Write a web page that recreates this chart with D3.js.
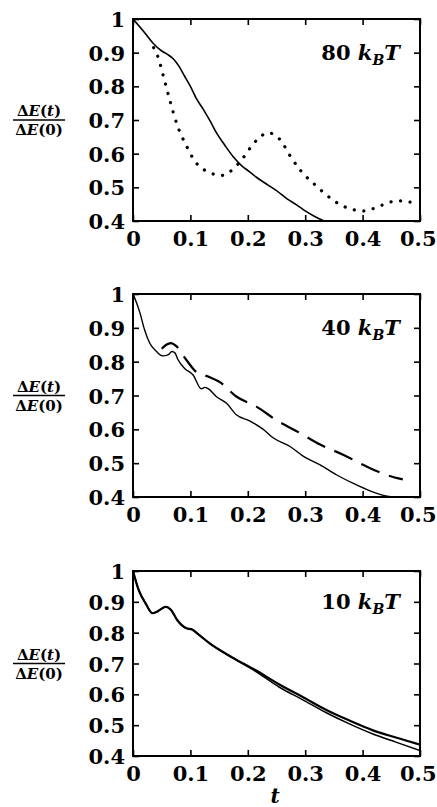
<!DOCTYPE html>
<html>
<head>
<meta charset="utf-8">
<script src="https://cdn.jsdelivr.net/npm/d3@7"></script>
<style>
  html, body { margin: 0; padding: 0; background: #fff; }
  svg { display: block; }
  text { font-family: "DejaVu Serif", "Liberation Serif", serif; font-weight: bold; fill: #000; }
</style>
</head>
<body>
<svg id="chart" width="437" height="807"></svg>
<script>
// ---------- data ----------
const xTicks = [0, 0.1, 0.2, 0.3, 0.4, 0.5];
const yTicks = [0.4, 0.5, 0.6, 0.7, 0.8, 0.9, 1];
const xTickLabels = ["0", "0.1", "0.2", "0.3", "0.4", "0.5"];
const yTickLabels = ["0.4", "0.5", "0.6", "0.7", "0.8", "0.9", "1"];
const panelLabels = ["80", "40", "10"];

// Panel 1: 80 kBT
const p1SolidT = [0, 0.02, 0.035, 0.05, 0.06, 0.07, 0.08, 0.09, 0.1, 0.11, 0.123, 0.135, 0.146, 0.16, 0.175, 0.19, 0.2, 0.215, 0.234, 0.25, 0.269, 0.285, 0.3, 0.315, 0.333];
const p1SolidV = [1, 0.96, 0.928, 0.905, 0.895, 0.882, 0.86, 0.83, 0.8, 0.765, 0.73, 0.695, 0.66, 0.625, 0.59, 0.563, 0.55, 0.53, 0.508, 0.49, 0.465, 0.448, 0.43, 0.415, 0.4];
const p1DotT = [0.036, 0.044, 0.053, 0.064, 0.076, 0.094, 0.105, 0.117, 0.13, 0.152, 0.165, 0.175, 0.193, 0.21, 0.222, 0.234, 0.245, 0.257, 0.275, 0.292, 0.322, 0.35, 0.377, 0.403, 0.432, 0.46, 0.49];
const p1DotV = [0.915, 0.885, 0.83, 0.76, 0.69, 0.62, 0.585, 0.56, 0.547, 0.535, 0.542, 0.555, 0.59, 0.63, 0.65, 0.662, 0.658, 0.64, 0.59, 0.55, 0.5, 0.46, 0.437, 0.43, 0.446, 0.46, 0.454];

// Panel 2: 40 kBT
const p2SolidT = [0, 0.006, 0.012, 0.02, 0.029, 0.041, 0.052, 0.061, 0.068, 0.073, 0.078, 0.09, 0.105, 0.119, 0.125, 0.131, 0.145, 0.163, 0.18, 0.203, 0.227, 0.244, 0.273, 0.297, 0.326, 0.355, 0.384, 0.413, 0.436, 0.452];
const p2SolidV = [1, 0.975, 0.945, 0.895, 0.855, 0.83, 0.817, 0.82, 0.83, 0.826, 0.807, 0.78, 0.76, 0.72, 0.724, 0.72, 0.697, 0.677, 0.643, 0.625, 0.6, 0.575, 0.55, 0.52, 0.495, 0.465, 0.44, 0.418, 0.405, 0.4];
const p2DashT = [0.05, 0.058, 0.066, 0.076, 0.093, 0.11, 0.131, 0.151, 0.18, 0.215, 0.25, 0.29, 0.326, 0.366, 0.407, 0.442, 0.47];
const p2DashV = [0.838, 0.85, 0.855, 0.845, 0.805, 0.77, 0.756, 0.74, 0.697, 0.667, 0.627, 0.59, 0.555, 0.525, 0.49, 0.465, 0.452];

// Panel 3: 10 kBT
const p3AT = [0, 0.01, 0.022, 0.034, 0.042, 0.051, 0.057, 0.066, 0.077, 0.092, 0.103, 0.115, 0.133, 0.173, 0.214, 0.255, 0.295, 0.336, 0.377, 0.417, 0.458, 0.5];
const p3AV = [1, 0.938, 0.895, 0.863, 0.868, 0.879, 0.884, 0.874, 0.841, 0.815, 0.81, 0.793, 0.766, 0.72, 0.678, 0.632, 0.592, 0.55, 0.515, 0.484, 0.46, 0.437];
const p3BV = [1, 0.938, 0.895, 0.863, 0.868, 0.879, 0.884, 0.874, 0.841, 0.815, 0.81, 0.793, 0.766, 0.718, 0.674, 0.623, 0.583, 0.541, 0.504, 0.472, 0.445, 0.418];

// ---------- layout ----------
const svg = d3.select("#chart");
const left = 133, right = 420;
const panels = [
  { top: 19, bottom: 221, label: panelLabels[0],
    series: [
      { t: p1SolidT, v: p1SolidV, dash: null, w: 1.6 },
      { t: p1DotT, v: p1DotV, dash: "0.1,9.5", w: 3.2, cap: "round" }
    ] },
  { top: 294, bottom: 497, label: panelLabels[1],
    series: [
      { t: p2SolidT, v: p2SolidV, dash: null, w: 1.4 },
      { t: p2DashT, v: p2DashV, dash: "20,10", w: 2.2 }
    ] },
  { top: 571, bottom: 756, label: panelLabels[2],
    series: [
      { t: p3AT, v: p3AV, dash: null, w: 2.2 },
      { t: p3AT, v: p3BV, dash: null, w: 1.5 }
    ] }
];

const defs = svg.append("defs");

panels.forEach((p, i) => {
  const x = d3.scaleLinear().domain([0, 0.5]).range([left, right]);
  const y = d3.scaleLinear().domain([0.4, 1]).range([p.bottom, p.top]);
  const g = svg.append("g");

  const clipId = "clip" + i;
  defs.append("clipPath").attr("id", clipId)
    .append("rect").attr("x", left).attr("y", p.top).attr("width", right - left).attr("height", p.bottom - p.top);

  const line = d3.line().x(d => x(d[0])).y(d => y(d[1])).curve(d3.curveMonotoneX);
  p.series.forEach(s => {
    const pts = s.t.map((t, k) => [t, s.v[k]]);
    g.append("path").datum(pts)
      .attr("clip-path", `url(#${clipId})`)
      .attr("d", line)
      .attr("fill", "none")
      .attr("stroke", "#000")
      .attr("stroke-width", s.w)
      .attr("stroke-linecap", s.cap || "butt")
      .attr("stroke-dasharray", s.dash);
  });

  // axes with inward ticks (all four sides)
  const tk = 6;
  const axB = d3.axisBottom(x).tickValues(xTicks).tickSize(-tk).tickFormat((d, k) => xTickLabels[k]).tickPadding(10);
  const axT = d3.axisTop(x).tickValues(xTicks).tickSize(-tk).tickFormat("");
  const axL = d3.axisLeft(y).tickValues(yTicks).tickSize(-tk).tickFormat((d, k) => yTickLabels[k]).tickPadding(8);
  const axR = d3.axisRight(y).tickValues(yTicks).tickSize(-tk).tickFormat("");

  const gB = g.append("g").attr("transform", `translate(0,${p.bottom})`).call(axB);
  const gT = g.append("g").attr("transform", `translate(0,${p.top})`).call(axT);
  const gL = g.append("g").attr("transform", `translate(${left},0)`).call(axL);
  const gR = g.append("g").attr("transform", `translate(${right},0)`).call(axR);
  [gB, gT, gL, gR].forEach(a => {
    a.select(".domain").remove();
    a.selectAll(".tick line").attr("stroke", "#000").attr("stroke-width", 1.6);
    a.selectAll(".tick text").style("font-family", "'DejaVu Serif', serif").style("font-weight", "bold").style("font-size", "21px").attr("fill", "#000");
  });
  gB.selectAll(".tick text").attr("dy", "0.71em");
  // keep the last x label inside the window
  gB.selectAll(".tick text").filter((d, k) => k === xTicks.length - 1)
    .attr("text-anchor", "end").attr("x", 436 - right);
  gL.selectAll(".tick text").attr("dy", "0.36em");

  // frame
  g.append("rect").attr("x", left).attr("y", p.top).attr("width", right - left).attr("height", p.bottom - p.top)
    .attr("fill", "none").attr("stroke", "#000").attr("stroke-width", 2);

  // annotation
  const ann = g.append("text").attr("x", x(0.465)).attr("y", y(0.9)).attr("dy", "0.36em")
    .attr("text-anchor", "end").style("font-size", "21px");
  ann.append("tspan").text(p.label + " ");
  ann.append("tspan").attr("font-style", "italic").text("k");
  ann.append("tspan").attr("font-style", "italic").attr("dy", "5").style("font-size", "14px").text("B");
  ann.append("tspan").attr("font-style", "italic").attr("dy", "-5").text("T");

  // y-axis label: fraction
  const cy = (p.top + p.bottom) / 2;
  const cx = 39;
  const num = g.append("text").attr("x", cx).attr("y", cy - 4).attr("text-anchor", "middle").style("font-size", "15px");
  num.append("tspan").text("Δ");
  num.append("tspan").attr("font-style", "italic").text("E");
  num.append("tspan").text("(");
  num.append("tspan").attr("font-style", "italic").text("t");
  num.append("tspan").text(")");
  g.append("line").attr("x1", cx - 26).attr("x2", cx + 26).attr("y1", cy).attr("y2", cy).attr("stroke", "#000").attr("stroke-width", 1.4);
  const den = g.append("text").attr("x", cx).attr("y", cy + 15).attr("text-anchor", "middle").style("font-size", "15px");
  den.append("tspan").text("Δ");
  den.append("tspan").attr("font-style", "italic").text("E");
  den.append("tspan").text("(0)");
});

// x-axis title
svg.append("text").attr("x", 275).attr("y", 803).attr("text-anchor", "middle")
  .attr("font-style", "italic").style("font-size", "20px").text("t");
</script>
</body>
</html>
